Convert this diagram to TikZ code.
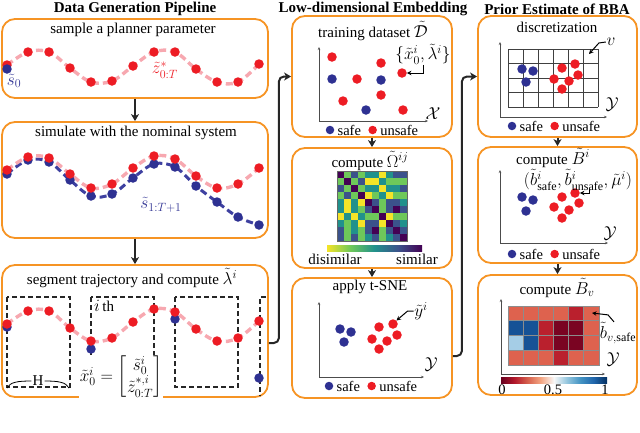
\documentclass[tikz,border=0pt]{standalone}
\usepackage{amsmath}
\usepackage{fontspec}
\setmainfont{Liberation Serif}
\DeclareMathSizes{15}{17.28}{12}{10}
\usetikzlibrary{arrows.meta,positioning}

\definecolor{panelor}{RGB}{246,148,36}
\definecolor{dotred}{RGB}{237,28,36}
\definecolor{dotblue}{RGB}{46,49,146}
\definecolor{trajpink}{RGB}{247,168,176}
\definecolor{trajblue}{RGB}{62,64,160}
% viridis levels
\definecolor{vir0}{RGB}{68,1,84}
\definecolor{vir1}{RGB}{59,82,139}
\definecolor{vir2}{RGB}{33,145,140}
\definecolor{vir3}{RGB}{110,200,90}
\definecolor{vir4}{RGB}{245,228,40}
% RdBu levels
\definecolor{rb0}{RGB}{103,0,31}
\definecolor{rb1}{RGB}{178,24,43}
\definecolor{rb2}{RGB}{214,96,77}
\definecolor{rb3}{RGB}{244,165,130}
\definecolor{rb4}{RGB}{247,247,247}
\definecolor{rb5}{RGB}{146,197,222}
\definecolor{rb6}{RGB}{67,147,195}
\definecolor{rb7}{RGB}{33,102,172}
\definecolor{rb8}{RGB}{5,48,97}
% cells of the B_v map
\definecolor{bb1}{RGB}{222,98,78}
\definecolor{bb2}{RGB}{186,32,45}
\definecolor{bb3}{RGB}{122,4,34}
\definecolor{bb4}{RGB}{165,205,230}
\definecolor{bb5}{RGB}{22,82,150}

\pgfdeclarehorizontalshading{virbar}{100bp}{color(0bp)=(vir4); color(25bp)=(vir4); color(37.5bp)=(vir3); color(50bp)=(vir2); color(62.5bp)=(vir1); color(75bp)=(vir0); color(100bp)=(vir0)}
\pgfdeclarehorizontalshading{rdbubar}{100bp}{color(0bp)=(rb0); color(25bp)=(rb0); color(31.25bp)=(rb1); color(37.5bp)=(rb2); color(43.75bp)=(rb3); color(50bp)=(rb4); color(56.25bp)=(rb5); color(62.5bp)=(rb6); color(68.75bp)=(rb7); color(75bp)=(rb8); color(100bp)=(rb8)}

\tikzset{
  panel/.style={draw=panelor,line width=1.8pt,rounded corners=13pt,inner sep=0pt},
  ttl/.style={font=\fontsize{15}{17}\selectfont\bfseries},
  leg/.style={font=\fontsize{14.5}{16}\selectfont,inner sep=2pt},
  lab/.style={inner sep=0.5pt},
  dotr/.style={circle,fill=dotred,inner sep=0pt,minimum size=9.5pt},
  dotb/.style={circle,fill=dotblue,inner sep=0pt,minimum size=9.5pt},
  trajr/.style={trajpink,line width=3.4pt,dash pattern=on 7pt off 4pt},
  trajb/.style={trajblue,line width=3pt,dash pattern=on 7pt off 4pt},
  conn/.style={-{Stealth[length=7pt,width=8pt,inset=2pt]},line width=2pt,black!85},
  ann/.style={-{Stealth[length=4.5pt,width=4.5pt]},line width=1pt},
  axis/.style={{Stealth[length=3pt,width=2.5pt]}-{Stealth[length=3pt,width=2.5pt]},line width=0.7pt,black!70},
  segbox/.style={draw=black!85,line width=1.3pt,dash pattern=on 5pt off 3pt}
}

\begin{document}
\begin{tikzpicture}[x=1pt,y=-1pt,every node/.style={font=\fontsize{15}{18}\selectfont}]
    \useasboundingbox (0,0) rectangle (640,432);

    % titles
    \node[ttl] (t1) at (135,9) {Data Generation Pipeline};
    \node[ttl] (t2) at (373,9) {Low-dimensional Embedding};
    \node[ttl] (t3) at (557,9) {Prior Estimate of BBA};

    % panels
    \node[panel,minimum width=266pt,minimum height=79pt] (L1) at (135,58.5) {};
    \node[panel,minimum width=266pt,minimum height=116pt] (L2) at (135,180) {};
    \node[panel,minimum width=266pt,minimum height=132pt] (L3) at (135,331) {};
    \node[panel,minimum width=160pt,minimum height=121pt] (M1) at (372,76.5) {};
    \node[panel,minimum width=160pt,minimum height=120pt] (M2) at (372,208) {};
    \node[panel,minimum width=160pt,minimum height=120pt] (M3) at (372,338) {};
    \node[panel,minimum width=159pt,minimum height=121pt] (R1) at (557.5,76.5) {};
    \node[panel,minimum width=159pt,minimum height=116pt] (R2) at (557.5,205) {};
    \node[panel,minimum width=159pt,minimum height=120pt] (R3) at (557.5,335) {};

    % L1: sample a planner parameter
    \node (h1) at (133,30) {sample a planner parameter};
    \foreach \k/\y in {0/65,1/52,2/52,3/68,4/82,5/81,6/66,7/52,8/52,9/69,10/82,11/82,12/64}
        \coordinate (a\k) at ({7+21*\k},\y);
    \draw[trajr] plot[smooth,tension=0.6] coordinates {(a0) (a1) (a2) (a3) (a4) (a5) (a6) (a7) (a8) (a9) (a10) (a11) (a12)};
    \foreach \k in {0,...,12}
        \node[dotr] (ra\k) at (a\k) {};
    \node[dotb] (sa0) at (7,69) {};
    \node[lab,text=dotblue] (s0lab) at (14,81) {$\tilde s_0$};
    \node[lab,text=dotred] (zlab) at (165,70) {$\tilde z^{*}_{0:T}$};

    % L2: simulate
    \node (h2) at (136,133) {simulate with the nominal system};
    \foreach \k/\y in {0/170,1/157,2/158,3/174,4/188,5/184,6/168,7/156,8/159,9/176,10/188,11/184,12/168}
        \coordinate (q\k) at ({7+21*\k},\y);
    \foreach \k/\y in {0/174,1/160,2/162,3/180,4/196,5/194,6/178,7/164,8/167,9/186,10/202,11/217,12/225}
        \coordinate (u\k) at ({7+21*\k},\y);
    \draw[trajb] plot[smooth,tension=0.6] coordinates {(u0) (u1) (u2) (u3) (u4) (u5) (u6) (u7) (u8) (u9) (u10) (u11) (u12)};
    \draw[trajr] plot[smooth,tension=0.6] coordinates {(q0) (q1) (q2) (q3) (q4) (q5) (q6) (q7) (q8) (q9) (q10) (q11) (q12)};
    \foreach \k in {0,...,12}
        \node[dotb] (bb\k) at (u\k) {};
    \foreach \k in {0,...,12}
        \node[dotr] (rb\k) at (q\k) {};
    \node[lab,text=dotblue] (s1lab) at (161,205) {$\tilde s_{1:T+1}$};

    % L3: segment trajectory
    \node (h3) at (132,278) {segment trajectory and compute $\tilde\lambda^i$};
    \draw[segbox] (7,297) rectangle (70,387);
    \draw[segbox] (91,297) rectangle (154,387);
    \draw[segbox] (175,297) rectangle (238,387);
    \draw[segbox] (266,297) -| (260,396);
    \foreach \k/\y in {0/324,1/311,2/311,3/328,4/341,5/338,6/322,7/309,8/312,9/329,10/341,11/338,12/321}
        \coordinate (c\k) at ({7+21*\k},\y);
    \draw[trajr] plot[smooth,tension=0.6] coordinates {(c0) (c1) (c2) (c3) (c4) (c5) (c6) (c7) (c8) (c9) (c10) (c11) (c12)};
    \node[dotb] (sc0) at (7,327) {};
    \node[dotb] (sc4) at (91,349) {};
    \node[dotb] (sc8) at (175,319) {};
    \node[dotb] (sc12) at (259,378) {};
    \foreach \k in {0,...,12}
        \node[dotr] (rc\k) at (c\k) {};
    \node[anchor=west,inner sep=1pt] (ith) at (93,306) {$i$\,th};
    \node[fill=white,inner sep=1pt] (x0) at (121,377) {$\tilde x_0^i=\begin{bmatrix}\tilde s_0^i\\ \tilde z^{*,i}_{0:T}\end{bmatrix}$};
    \node[inner sep=1pt] (Hlab) at (38,381) {H};
    \draw[line width=0.8pt] (Hlab.west) .. controls (18,381) and (10,382) .. (7,388);
    \draw[line width=0.8pt] (Hlab.east) .. controls (58,381) and (66,382) .. (69,388);

    % M1: training dataset
    \node (h4) at (373,31) {training dataset $\tilde{\mathcal{D}}$};
    \draw[axis] (319,47) -- (319,121) -- (428,121);
    \node[lab] (xcal) at (433,114) {$\mathcal{X}$};
    \foreach \n/\x/\y in {1/332/57,2/381/63,3/357/79,4/402/73,5/343/101,6/381/95,7/403/110}
        \node[dotr] (m1r\n) at (\x,\y) {};
    \foreach \n/\x/\y in {1/332/79,2/381/80,3/366/110}
        \node[dotb] (m1b\n) at (\x,\y) {};
    \node[lab] (xlab) at (423,54) {$\{\tilde x_0^i,\tilde\lambda^i\}$};
    \draw[ann] (xlab.south) |- (m1r4.east);
    \node[dotb,minimum size=8.5pt] (m1lb) at (330,130) {};
    \node[leg,right=1pt of m1lb] (m1ls) {safe};
    \node[dotr,minimum size=8.5pt,right=5pt of m1ls] (m1lr) {};
    \node[leg,right=1pt of m1lr] (m1lu) {unsafe};

    % M2: similarity matrix
    \node (h5) at (370,161) {compute $\tilde\Omega^{ij}$};
    \foreach \row [count=\r from 0] in {{0,3,1,3,2,2,4,2,1,1},{3,0,3,1,4,4,2,3,3,3},{1,3,0,3,2,2,4,2,2,1},{3,1,3,0,4,3,2,4,3,3},{2,4,2,4,0,1,3,1,1,2},{2,4,2,3,1,0,3,1,0,1},{4,2,4,2,3,3,0,4,3,3},{2,3,2,4,1,1,4,0,1,2},{1,3,2,3,1,0,3,1,0,1},{1,3,1,3,2,1,3,2,1,0}}
        \foreach \v [count=\c from 0] in \row
            \fill[vir\v] ({337+7*\c},{171+7*\r}) rectangle ++(7,7);
    \draw[black!60,line width=0.6pt] (337,171) rectangle (407,241);
    \shade[shading=virbar] (327,245) rectangle (422,251);
    \node (dis) at (335,259) {disimilar};
    \node (sim) at (417,259) {similar};

    % M3: t-SNE
    \node (h6) at (370,287) {apply t-SNE};
    \draw[axis] (319,302) -- (319,377) -- (424,377);
    \node[lab] (ycal1) at (431,364) {$\mathcal{Y}$};
    \foreach \n/\x/\y in {1/340/329,2/351/332,3/344/342}
        \node[dotb] (m3b\n) at (\x,\y) {};
    \foreach \n/\x/\y in {1/379/327,2/393/324,3/397/335,4/372/339,5/387/341,6/379/349}
        \node[dotr] (m3r\n) at (\x,\y) {};
    \node[lab] (ylab) at (421,311) {$\tilde y^i$};
    \draw[ann] (ylab.west) -- ++(-6,0) -- (m3r2.north east);
    \node[dotb,minimum size=8.5pt] (m3lb) at (329,386) {};
    \node[leg,right=1pt of m3lb] (m3ls) {safe};
    \node[dotr,minimum size=8.5pt,right=5pt of m3ls] (m3lr) {};
    \node[leg,right=1pt of m3lr] (m3lu) {unsafe};

    % R1: discretization
    \node (h7) at (557,27) {discretization};
    \draw[axis] (500,42) -- (500,117) -- (607,117);
    \foreach \i in {0,...,6}
        \draw[black!75,line width=0.8pt] ({508+15*\i},49) -- ++(0,58);
    \foreach \j in {0,...,4}
        \draw[black!75,line width=0.8pt] (508,{49+14.5*\j}) -- ++(90,0);
    \foreach \n/\x/\y in {1/522/69,2/533/71,3/526/82}
        \node[dotb] (r1b\n) at (\x,\y) {};
    \foreach \n/\x/\y in {1/562/68,2/575/64,3/578/75,4/554/79,5/569/81,6/562/89}
        \node[dotr] (r1r\n) at (\x,\y) {};
    \node[lab] (vlab) at (611,42) {$v$};
    \coordinate (vcell) at (589,54);
    \draw[ann] (vlab.west) -- ++(-7,1) -- (vcell);
    \node[lab] (ycal2) at (612,104) {$\mathcal{Y}$};
    \node[dotb,minimum size=8.5pt] (r1lb) at (512,126) {};
    \node[leg,right=1pt of r1lb] (r1ls) {safe};
    \node[dotr,minimum size=8.5pt,right=5pt of r1ls] (r1lr) {};
    \node[leg,right=1pt of r1lr] (r1lu) {unsafe};

    % R2: compute B^i
    \node (h8) at (553,158) {compute $\tilde B^i$};
    \draw[axis] (500,170) -- (500,243) -- (608,243);
    \foreach \n/\x/\y in {1/522/197,2/533/200,3/526/211}
        \node[dotb] (r2b\n) at (\x,\y) {};
    \foreach \n/\x/\y in {1/562/197,2/575/193,3/579/203,4/554/207,5/569/210,6/562/218}
        \node[dotr] (r2r\n) at (\x,\y) {};
    \node[lab] (blab) at (578,180) {$(\tilde b^i_{\text{safe}},\tilde b^i_{\text{unsafe}},\tilde\mu^i)$};
    \coordinate (bst) at (589,189);
    \draw[ann] (bst) |- (r2r2.east);
    \node[lab] (ycal3) at (610,233) {$\mathcal{Y}$};
    \node[dotb,minimum size=8.5pt] (r2lb) at (512,254) {};
    \node[leg,right=1pt of r2lb] (r2ls) {safe};
    \node[dotr,minimum size=8.5pt,right=5pt of r2ls] (r2lr) {};
    \node[leg,right=1pt of r2lr] (r2lu) {unsafe};

    % R3: compute B_v
    \node (h9) at (557,288) {compute $\tilde B_v$};
    \draw[axis] (501,299) -- (501,374) -- (605,374);
    \foreach \row [count=\r from 0] in {{1,1,1,1,2,1},{5,5,2,3,3,1},{4,5,2,3,3,1},{1,1,1,2,1,1}}
        \foreach \v [count=\c from 0] in \row
            \filldraw[fill=bb\v,draw=black!45,line width=0.8pt] ({508+15.17*\c},{306+14.75*\r}) rectangle ++(15.17,14.75);
    \node[lab] (bvlab) at (618,333) {$\tilde b_{v,\text{safe}}$};
    \coordinate (bvt) at (592,313);
    \draw[ann] ([xshift=-4pt]bvlab.north) -- ++(-6,-7) -- (bvt);
    \node[lab] (ycal4) at (613,359) {$\mathcal{Y}$};
    \shade[shading=rdbubar] (501,377) rectangle (607,383);
    \node[leg] (tk0) at (502,390) {0};
    \node[leg] (tk1) at (553,390) {0.5};
    \node[leg] (tk2) at (605,390) {1};

    % connectors
    \draw[conn] (L1.south) -- (L2.north);
    \draw[conn] (L2.south) -- (L3.north);
    \draw[conn] (M1.south) -- (M2.north);
    \draw[conn] (M2.south) -- (M3.north);
    \draw[conn] (R1.south) -- (R2.north);
    \draw[conn] (R2.south) -- (R3.north);
    \draw[conn,rounded corners=5pt] ([yshift=-12pt]L3.east) -- ++(10,0) |- (M1.west);
    \draw[conn,rounded corners=5pt] ([yshift=-18pt]M3.east) -- ++(9,0) |- (R1.west);
\end{tikzpicture}
\end{document}
